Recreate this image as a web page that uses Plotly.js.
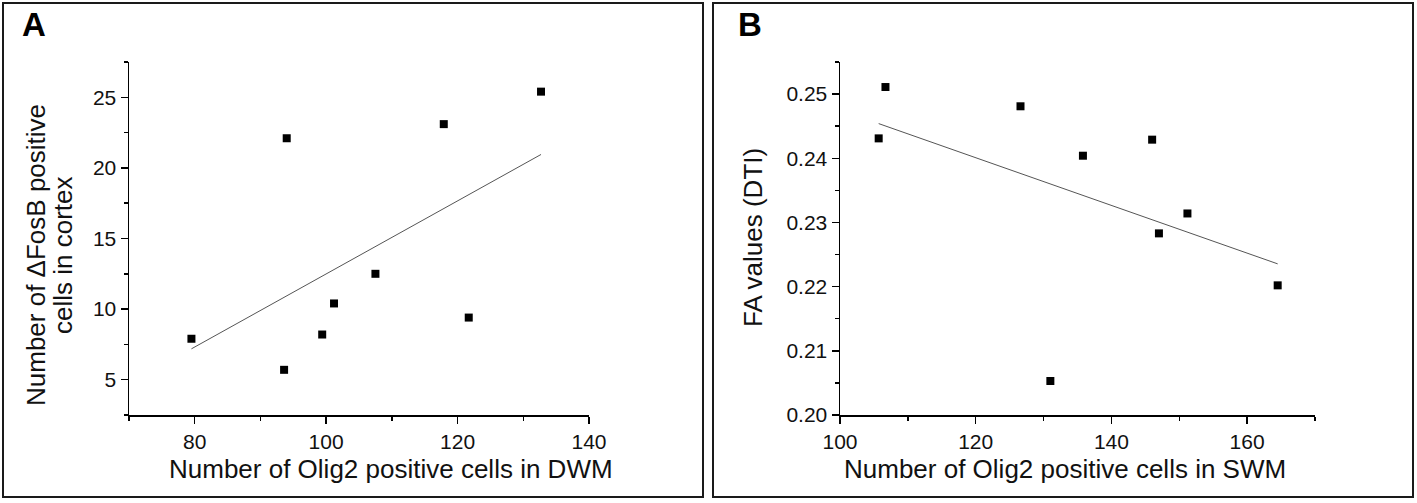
<!DOCTYPE html>
<html>
<head>
<meta charset="utf-8">
<script src="https://cdn.plot.ly/plotly-3.0.1.min.js"></script>
<style>
  html, body { margin: 0; padding: 0; background: #fff; }
  #chart { width: 1417px; height: 503px; }
</style>
</head>
<body>
<div id="chart"></div>
<script>
// Panel A data: Olig2+ cells in DWM vs ΔFosB+ cells in cortex
const dwmOlig2 = [79.5, 93.6, 94.0, 99.4, 101.2, 107.5, 117.9, 121.7, 132.7];
const fosbCortex = [7.9, 5.7, 22.1, 8.2, 10.4, 12.5, 23.1, 9.4, 25.4];

// Panel B data: Olig2+ cells in SWM vs FA values (DTI)
const swmOlig2 = [105.7, 106.7, 126.6, 131.0, 135.8, 146.0, 147.0, 151.2, 164.5];
const faValues = [0.2431, 0.2511, 0.2481, 0.2053, 0.2404, 0.2429, 0.2283, 0.2314, 0.2202];

// Tick values / labels
const xTicksA = [80, 100, 120, 140];
const yTicksA = [5, 10, 15, 20, 25];
const xTicksB = [100, 120, 140, 160];
const yTicksB = [0.20, 0.21, 0.22, 0.23, 0.24, 0.25];
const yTickTextB = ['0.20', '0.21', '0.22', '0.23', '0.24', '0.25'];

// Least-squares fit line from data, drawn over the data's x extent
function fitLine(xs, ys) {
  const n = xs.length;
  const mx = xs.reduce((a, b) => a + b, 0) / n;
  const my = ys.reduce((a, b) => a + b, 0) / n;
  let sxy = 0, sxx = 0;
  for (let i = 0; i < n; i++) { sxy += (xs[i] - mx) * (ys[i] - my); sxx += (xs[i] - mx) ** 2; }
  const slope = sxy / sxx, icpt = my - slope * mx;
  const x0 = Math.min(...xs), x1 = Math.max(...xs);
  return { x: [x0, x1], y: [icpt + slope * x0, icpt + slope * x1] };
}
const fitA = fitLine(dwmOlig2, fosbCortex);
const fitB = fitLine(swmOlig2, faValues);

const FONT = 'Liberation Sans, Arial, sans-serif';
const TXT = '#111111';
const TITLE_SIZE = 26;

const markerStyle = { symbol: 'square', size: 8, color: '#000000' };
const lineStyle = { color: '#555555', width: 1 };

const traces = [
  { x: fitA.x, y: fitA.y, type: 'scatter', mode: 'lines', line: lineStyle, xaxis: 'x', yaxis: 'y', hoverinfo: 'skip' },
  { x: dwmOlig2, y: fosbCortex, type: 'scatter', mode: 'markers', marker: markerStyle, xaxis: 'x', yaxis: 'y' },
  { x: fitB.x, y: fitB.y, type: 'scatter', mode: 'lines', line: lineStyle, xaxis: 'x2', yaxis: 'y2', hoverinfo: 'skip' },
  { x: swmOlig2, y: faValues, type: 'scatter', mode: 'markers', marker: markerStyle, xaxis: 'x2', yaxis: 'y2' }
];

const W = 1417, H = 503;
const px = v => v / W;
const py = v => 1 - v / H;

const minorTicks = d => ({ dtick: d, tick0: 0, ticks: 'outside', ticklen: 4, tickwidth: 1.5, tickcolor: '#000' });

const axisCommon = {
  showgrid: false, zeroline: false, showline: true, linecolor: '#000', linewidth: 1.5,
  ticks: 'outside', ticklen: 7, tickwidth: 1.5, tickcolor: '#000',
  tickfont: { family: FONT, size: 21, color: TXT },
  fixedrange: true
};

const layout = {
  width: W, height: H,
  margin: { l: 0, r: 0, t: 0, b: 0 },
  paper_bgcolor: '#ffffff', plot_bgcolor: '#ffffff',
  showlegend: false,
  xaxis: Object.assign({}, axisCommon, {
    domain: [px(129), px(589)], range: [70, 140], anchor: 'y',
    tickvals: xTicksA, ticktext: xTicksA.map(String), minor: minorTicks(10)
  }),
  yaxis: Object.assign({}, axisCommon, {
    domain: [py(415), py(62)], range: [2.5, 27.5], anchor: 'x',
    tickvals: yTicksA, ticktext: yTicksA.map(String), minor: minorTicks(2.5)
  }),
  xaxis2: Object.assign({}, axisCommon, {
    domain: [px(840), px(1315)], range: [100, 170], anchor: 'y2',
    tickvals: xTicksB, ticktext: xTicksB.map(String), minor: minorTicks(10)
  }),
  yaxis2: Object.assign({}, axisCommon, {
    domain: [py(415), py(62)], range: [0.20, 0.255], anchor: 'x2',
    tickvals: yTicksB, ticktext: yTickTextB, minor: minorTicks(0.005)
  }),
  shapes: [
    { type: 'rect', xref: 'paper', yref: 'paper', x0: px(3), x1: px(703), y0: py(497), y1: py(3), line: { color: '#1a1a1a', width: 2 } },
    { type: 'rect', xref: 'paper', yref: 'paper', x0: px(713), x1: px(1413), y0: py(497), y1: py(3), line: { color: '#1a1a1a', width: 2 } }
  ],
  annotations: [
    { text: '<b>A</b>', xref: 'paper', yref: 'paper', x: px(34), y: py(25), xanchor: 'center', yanchor: 'middle', showarrow: false, font: { family: FONT, size: 33, color: '#000' } },
    { text: '<b>B</b>', xref: 'paper', yref: 'paper', x: px(750), y: py(25), xanchor: 'center', yanchor: 'middle', showarrow: false, font: { family: FONT, size: 33, color: '#000' } },
    { text: 'Number of Olig2 positive cells in DWM', xref: 'paper', yref: 'paper', x: px(391), y: py(469), xanchor: 'center', yanchor: 'middle', showarrow: false, font: { family: FONT, size: TITLE_SIZE, color: TXT } },
    { text: 'Number of Olig2 positive cells in SWM', xref: 'paper', yref: 'paper', x: px(1065), y: py(469), xanchor: 'center', yanchor: 'middle', showarrow: false, font: { family: FONT, size: TITLE_SIZE, color: TXT } },
    { text: 'Number of ΔFosB positive', xref: 'paper', yref: 'paper', x: px(36), y: py(255), xanchor: 'center', yanchor: 'middle', textangle: -90, showarrow: false, font: { family: FONT, size: TITLE_SIZE, color: TXT } },
    { text: 'cells in cortex', xref: 'paper', yref: 'paper', x: px(63), y: py(255), xanchor: 'center', yanchor: 'middle', textangle: -90, showarrow: false, font: { family: FONT, size: TITLE_SIZE, color: TXT } },
    { text: 'FA values (DTI)', xref: 'paper', yref: 'paper', x: px(753), y: py(238), xanchor: 'center', yanchor: 'middle', textangle: -90, showarrow: false, font: { family: FONT, size: TITLE_SIZE, color: TXT } }
  ]
};

Plotly.newPlot('chart', traces, layout, { displayModeBar: false, staticPlot: true });
</script>
</body>
</html>
